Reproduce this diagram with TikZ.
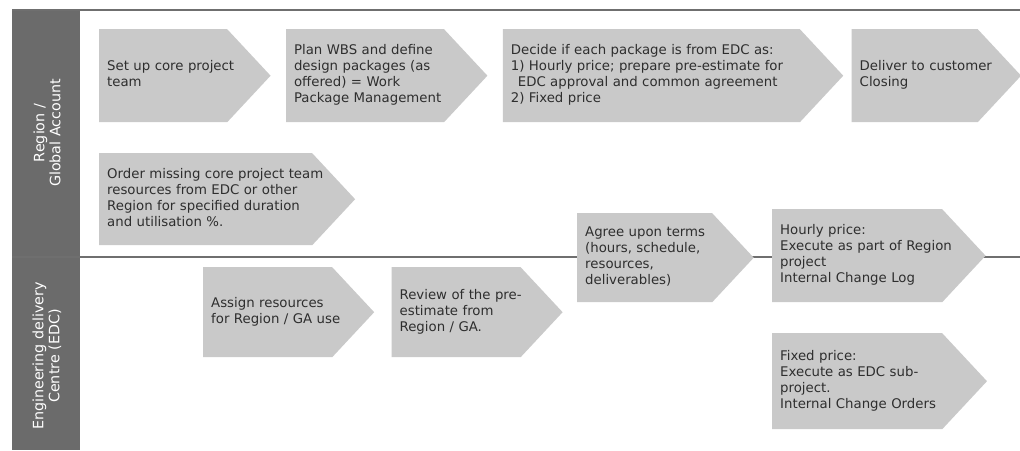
\documentclass[tikz,border=0pt]{standalone}
\usepackage{fontspec}
\setmainfont{DejaVu Sans}
\usepackage{tikz}
\usetikzlibrary{positioning, shapes.symbols}
\definecolor{boxgray}{HTML}{C9C9C9}
\definecolor{lanegray}{HTML}{6B6B6B}
\definecolor{linegray}{HTML}{6F6F6F}
\definecolor{inkgray}{HTML}{2E2E2E}
\newcommand{\steptext}[1]{\begin{tabular}{@{}l@{}}#1\end{tabular}}

\begin{document}
\begin{tikzpicture}[
  x=1pt, y=-1pt,
  stepbox/.style={signal, signal to=east, signal pointer angle=94,
                  fill=boxgray, text=inkgray, align=left, anchor=north west,
                  inner xsep=8pt, inner ysep=0pt, minimum height=92pt,
                  text width=#1, font=\fontsize{13.3}{16}\selectfont},
  lanelabel/.style={rotate=90, text=white, align=center,
                    font=\fontsize{14.3}{16}\selectfont},
  laneline/.style={linegray, line width=1.5pt}
]
\useasboundingbox[fill=white] (0,0) rectangle (1020,450);

% swimlanes
\fill[lanegray] (12,10) rectangle (80,450);
\draw[laneline] (12,10)  -- (1020,10);
\draw[laneline] (12,257) -- (1020,257);
\node[lanelabel] (region) at (47,133) {Region /\\Global Account};
\node[lanelabel] (edc)    at (47,356) {Engineering delivery\\Centre (EDC)};

% Region / Global Account
\node[stepbox=112pt, minimum height=93pt] (setup) at (99,29)
  {\steptext{Set up core project\\team}};
\node[stepbox=142pt, minimum height=93pt, right=15pt of setup] (plan)
  {\steptext{Plan WBS and define\\design packages (as\\offered) = Work\\Package Management}};
\node[stepbox=281pt, minimum height=93pt, right=15pt of plan] (decide)
  {\steptext{Decide if each package is from EDC as:\\1) Hourly price; prepare pre-estimate for\\\hspace{7pt}EDC approval and common agreement\\2) Fixed price}};
\node[stepbox=110pt, minimum height=93pt, right=8pt of decide] (deliver)
  {\steptext{Deliver to customer\\Closing}};
\node[stepbox=197pt] (order) at (99,153)
  {\steptext{Order missing core project team\\resources from EDC or other\\Region for specified duration\\and utilisation \%.}};

% Engineering delivery Centre
\node[stepbox=113pt, minimum height=90pt] (assign) at (203,267)
  {\steptext{Assign resources\\for Region / GA use}};
\node[stepbox=113pt, minimum height=90pt, right=17pt of assign] (review)
  {\steptext{Review of the pre-\\estimate from\\Region / GA.}};
\node[stepbox=119pt, minimum height=89pt] (agree) at (577,213)
  {\steptext{Agree upon terms\\(hours, schedule,\\resources,\\deliverables)}};
\node[stepbox=154pt, minimum height=93pt] (hourly) at (772,209)
  {\steptext{Hourly price:\\Execute as part of Region\\project\\Internal Change Log}};
\node[stepbox=154pt, minimum height=96pt] (fixed) at (772,333)
  {\steptext{Fixed price:\\Execute as EDC sub-\\project.\\Internal Change Orders}};

\end{tikzpicture}
\end{document}
